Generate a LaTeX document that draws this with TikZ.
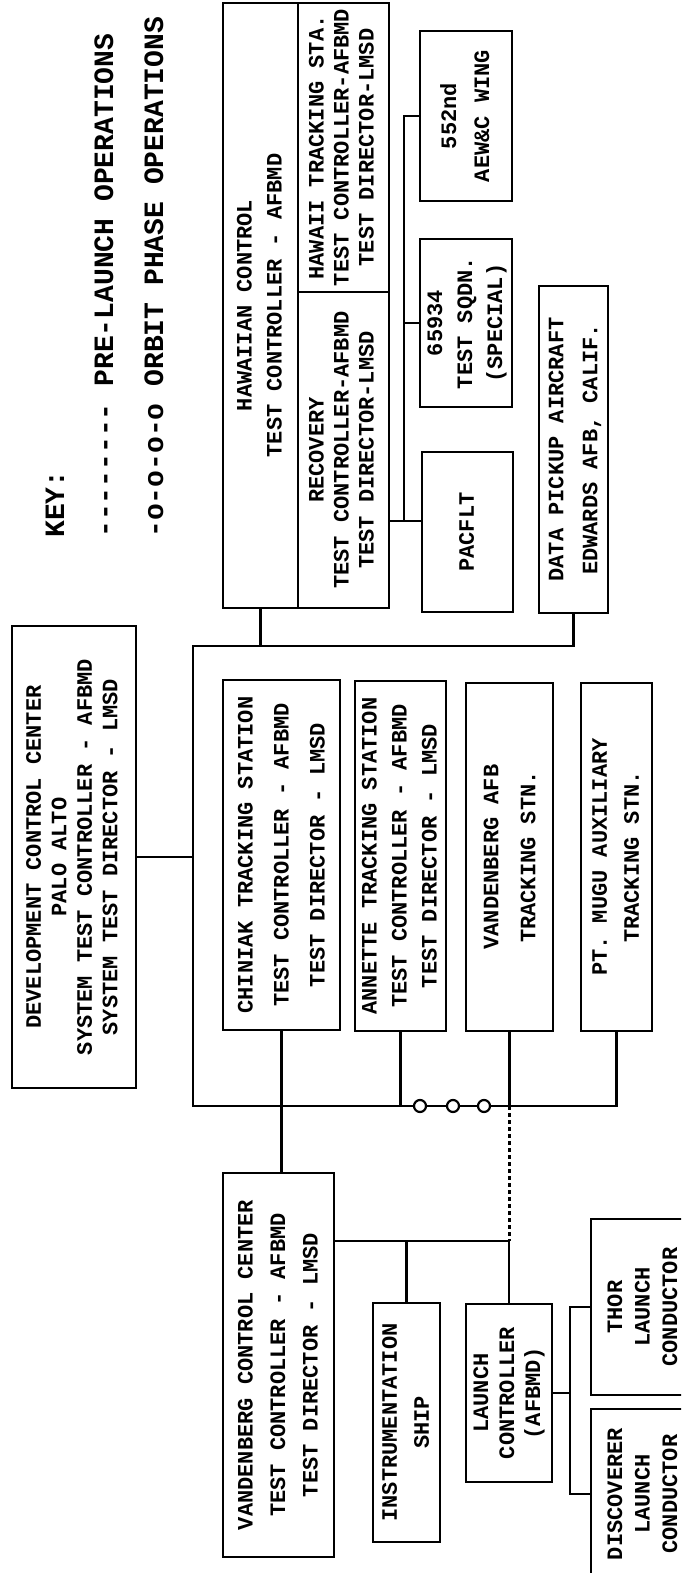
\documentclass[tikz,border=0pt]{standalone}
\usepackage{fontspec}
\setmonofont{Liberation Mono}
\usepackage{graphicx}

% rotated block of typed lines, #1 = line spacing
\newcommand{\vtext}[2]{\rotatebox{90}{\fontsize{11}{#1}\selectfont\begin{tabular}{@{}c@{}}#2\end{tabular}}}

\begin{document}
\begin{tikzpicture}[x=0.5pt,y=-0.5pt,
  box/.style={draw,line width=1.4pt,inner sep=0pt,font=\ttfamily\bfseries},
  link/.style={line width=1.2pt},
  pre/.style={link,dash pattern=on 2pt off 1.5pt},
  ring/.style={draw,line width=1.1pt,fill=white,circle,inner sep=0pt,minimum size=6pt},
  keytext/.style={font=\ttfamily\bfseries\fontsize{14}{16}\selectfont,rotate=90,inner sep=0pt,anchor=west}]
  \useasboundingbox (0,0) rectangle (681,1573);
  \clip (0,0) rectangle (681,1573);

  % key
  \node[keytext] (key) at (55,538) {KEY:};
  \node[keytext] (keypre) at (104,538) {-------- PRE-LAUNCH OPERATIONS};
  \node[keytext] (keyorb) at (154,538) {-o-o-o-o ORBIT PHASE OPERATIONS};

  % boxes
  \node[box,minimum width=62pt,minimum height=231pt] (devc) at (74,857)
    {\vtext{12.75pt}{DEVELOPMENT CONTROL CENTER\\PALO ALTO\\SYSTEM TEST CONTROLLER - AFBMD\\SYSTEM TEST DIRECTOR - LMSD}};
  \node[box,minimum width=37.5pt,minimum height=302.5pt] (hawctl) at (260.5,305.5)
    {\vtext{15pt}{HAWAIIAN CONTROL\\TEST CONTROLLER - AFBMD}};
  \node[box,minimum width=45.5pt,minimum height=144.5pt] (hawsta) at (343.5,147.5)
    {\vtext{12.5pt}{HAWAII TRACKING STA.\\TEST CONTROLLER-AFBMD\\TEST DIRECTOR-LMSD}};
  \node[box,minimum width=45.5pt,minimum height=158pt] (recov) at (343.5,450)
    {\vtext{12.5pt}{RECOVERY\\TEST CONTROLLER-AFBMD\\TEST DIRECTOR-LMSD}};
  \node[box,minimum width=46pt,minimum height=85pt] (wing) at (466,116)
    {\vtext{16.5pt}{552nd\\AEW\&C WING}};
  \node[box,minimum width=46pt,minimum height=84pt] (sqdn) at (466,323)
    {\vtext{15pt}{65934\\TEST SQDN.\\(SPECIAL)}};
  \node[box,minimum width=45.5pt,minimum height=80pt] (pacflt) at (467.5,532)
    {\vtext{16pt}{PACFLT}};
  \node[box,minimum width=34.5pt,minimum height=163.5pt] (pickup) at (573.5,449.5)
    {\vtext{17pt}{DATA PICKUP AIRCRAFT\\EDWARDS AFB, CALIF.}};
  \node[box,minimum width=58.5pt,minimum height=175pt] (chiniak) at (281.5,855)
    {\vtext{18pt}{CHINIAK TRACKING STATION\\TEST CONTROLLER - AFBMD\\TEST DIRECTOR - LMSD}};
  \node[box,minimum width=45.5pt,minimum height=175pt] (annette) at (400.5,856)
    {\vtext{15pt}{ANNETTE TRACKING STATION\\TEST CONTROLLER - AFBMD\\TEST DIRECTOR - LMSD}};
  \node[box,minimum width=43.5pt,minimum height=174pt] (vafb) at (509.5,857)
    {\vtext{18.5pt}{VANDENBERG AFB\\TRACKING STN.}};
  \node[box,minimum width=35.5pt,minimum height=174pt] (mugu) at (616.5,857)
    {\vtext{16pt}{PT. MUGU AUXILIARY\\TRACKING STN.}};
  \node[box,minimum width=55.5pt,minimum height=192pt] (vcc) at (278.5,1365)
    {\vtext{16.25pt}{VANDENBERG CONTROL CENTER\\TEST CONTROLLER - AFBMD\\TEST DIRECTOR - LMSD}};
  \node[box,minimum width=33.5pt,minimum height=119.5pt] (ship) at (406.5,1422.5)
    {\vtext{16pt}{INSTRUMENTATION\\SHIP}};
  \node[box,minimum width=43pt,minimum height=89pt] (lctl) at (509,1393)
    {\vtext{13pt}{LAUNCH\\CONTROLLER\\(AFBMD)}};
  \node[box,minimum width=62pt,minimum height=88pt] (thor) at (653,1307)
    {\hspace*{-9pt}\vtext{13.75pt}{THOR\\LAUNCH\\CONDUCTOR}};
  \node[box,minimum width=62pt,minimum height=85pt] (disc) at (653,1494)
    {\hspace*{-9pt}\vtext{13.75pt}{DISCOVERER\\LAUNCH\\CONDUCTOR}};

  % bus points
  \coordinate (busT) at (193,646);
  \coordinate (busB) at (193,1106);
  \coordinate (hbus) at (404,521);
  \coordinate (vbus) at (334,1241);
  \coordinate (lbus) at (570,1393);

  % main tree
  \draw[link] (hawctl.south) -- (hawctl.south |- busT);
  \draw[link] (pickup.south) |- (busT) -- (busB) -| (mugu.south);
  \draw[link] (devc.east) -- (devc.east -| busT);
  \draw[link] (chiniak.south) -- (chiniak.south |- vcc.north);
  \draw[link] (annette.south) -- (annette.south |- busB);
  \draw[link] (vafb.south) -- (vafb.south |- busB);
  \node[ring] (o1) at (420,1106) {};
  \node[ring] (o2) at (453,1106) {};
  \node[ring] (o3) at (484,1106) {};

  % hawaii support
  \draw[link] (recov.east |- hbus) -- (pacflt.west |- hbus);
  \draw[link] (hbus) |- (wing.west);
  \draw[link] (sqdn.west) -- (sqdn.west -| hbus);

  % vandenberg
  \draw[pre] (vafb.south |- busB) -- (vafb.south |- vbus);
  \draw[link] (vbus) -| (lctl.north);
  \draw[link] (ship.north) -- (ship.north |- vbus);
  \draw[link] (lctl.east) -- (lbus);
  \draw[link] (thor.west) -| (lbus) |- (disc.west);
\end{tikzpicture}
\end{document}
